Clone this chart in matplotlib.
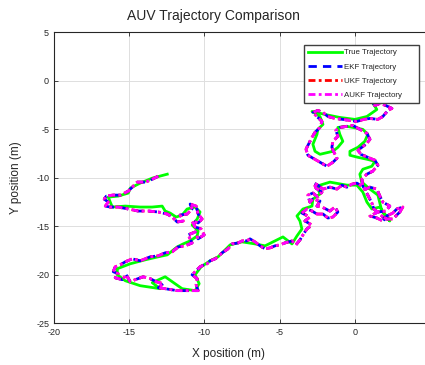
import matplotlib
matplotlib.use("Agg")
import matplotlib.pyplot as plt

# True trajectory (m)
true_x = [-12.47, -13.47, -14.27, -14.93, -15.06, -15.73, -16.39, -16.26, -16.12, -15.26,
          -14.27, -13.47, -12.81, -12.61, -12.28, -11.88, -11.48, -11.15, -10.62, -10.29,
          -10.48, -10.82, -10.42, -10.48, -10.95, -11.41, -11.81, -12.14, -12.47, -13.07,
          -13.93, -14.93, -15.79, -15.79, -15.26, -14.27, -12.94, -13.47, -12.61, -12.14,
          -11.48, -10.62, -10.35, -10.62, -10.22, -9.62, -9.09, -8.69, -8.29, -7.5,
          -6.64, -5.97, -5.31, -4.78, -4.18, -3.85, -3.52, -3.65, -3.85, -3.45,
          -2.85, -2.79, -2.32, -2.52, -1.66, -0.53, 0.13, 0.53, 0.8, 1.13,
          1.66, 1.99, 2.32, 1.79, 1.53, 1.0, 0.46, 0.33, 0.53, 1.13,
          1.33, 0.8, 0.2, -0.33, -0.33, 0.2, 0.66, 0.86, 0.53, -0.13,
          -0.53, -1.13, -1.0, -0.8, -1.13, -1.46, -2.32, -2.65, -2.79, -2.52,
          -2.46, -2.12, -2.32, -2.85, -1.99, -1.0, 0.0, 0.8, 1.46, 1.13]
true_y = [-9.65, -10.06, -10.57, -11.09, -11.6, -11.91, -12.01, -12.53, -13.04, -12.94,
          -13.04, -13.04, -12.94, -13.45, -13.66, -14.07, -13.86, -13.24, -13.04, -13.55,
          -14.27, -14.89, -15.5, -16.02, -16.53, -16.84, -17.15, -17.56, -17.97, -18.17,
          -18.48, -18.89, -19.4, -20.02, -20.64, -21.15, -21.46, -20.84, -20.23, -20.74,
          -21.46, -21.66, -20.94, -20.02, -19.2, -18.58, -18.17, -17.56, -16.94, -16.63,
          -16.84, -17.04, -16.53, -16.12, -16.84, -16.02, -15.3, -14.48, -13.96, -13.24,
          -12.94, -12.22, -11.7, -10.88, -10.47, -10.78, -10.78, -11.5, -12.53, -13.24,
          -13.04, -13.76, -14.48, -13.45, -11.81, -11.19, -10.47, -9.65, -9.14, -8.83,
          -8.32, -8.11, -7.91, -7.7, -7.29, -6.88, -6.26, -5.54, -5.03, -4.83,
          -4.72, -4.83, -5.54, -6.26, -6.88, -7.29, -7.6, -7.29, -6.57, -5.54,
          -5.03, -4.52, -3.7, -3.18, -3.49, -3.8, -4.0, -3.7, -2.98, -2.16]

# Filter estimates (EKF, UKF and AUKF overlap almost exactly)
est_x = [-13.07, -13.6, -13.93, -14.47, -14.8, -15.06, -15.59, -16.12, -16.52, -16.66,
         -16.39, -16.59, -16.26, -15.73, -15.06, -14.4, -13.74, -13.07, -12.47, -12.14,
         -11.81, -11.41, -11.61, -11.15, -10.82, -10.95, -10.55, -10.42, -10.15, -10.42,
         -10.82, -10.62, -10.22, -10.02, -10.42, -10.62, -11.08, -10.82, -11.28, -11.75,
         -12.14, -12.61, -13.07, -13.6, -14.27, -14.8, -15.26, -15.59, -15.93, -16.06,
         -15.73, -15.93, -15.46, -15.2, -14.93, -14.6, -14.07, -13.6, -13.2, -12.74,
         -13.07, -12.61, -11.81, -11.08, -10.42, -10.55, -10.48, -10.82, -10.55, -10.29,
         -10.02, -9.82, -9.62, -9.29, -9.09, -8.83, -8.43, -8.16, -7.76, -7.5,
         -7.17, -6.97, -6.64, -6.3, -5.97, -5.64, -5.31, -4.98, -4.65, -4.18,
         -3.92, -3.65, -3.45, -3.19, -2.85, -3.32, -2.99, -3.52, -3.19, -2.85,
         -2.52, -2.12, -1.79, -1.46, -1.13, -1.33, -1.66, -2.19, -2.52, -2.32,
         -2.79, -2.99, -3.12, -2.79, -2.46, -2.19, -2.59, -2.72, -2.46, -2.12,
         -1.66, -1.19, -0.86, -0.53, -0.2, 0.13, 0.46, 0.73, 1.0, 1.46,
         1.66, 1.86, 2.32, 2.06, 1.53, 1.0, 1.46, 1.86, 2.12, 2.52,
         2.79, 3.19, 2.99, 2.52, 1.99, 1.66, 1.26, 1.13, 0.86, 0.53,
         0.46, 0.8, 1.19, 1.53, 1.33, 0.86, 0.4, 0.2, 0.46, 0.8,
         1.0, 0.8, 0.33, -0.13, -0.53, -1.0, -1.26, -1.13, -1.46, -1.53,
         -1.39, -1.19, -1.46, -1.86, -2.32, -2.79, -3.12, -3.25, -3.05, -2.85,
         -2.65, -2.32, -2.19, -2.46, -2.79, -2.46, -2.12, -1.79, -1.33, -0.8,
         -0.33, 0.13, 0.6, 1.0, 1.53, 1.86, 2.19, 2.46, 2.06, 1.66,
         1.33, 1.13]
est_y = [-9.86, -10.27, -10.47, -10.47, -10.99, -11.4, -11.81, -11.81, -11.91, -12.22,
         -12.53, -12.94, -13.04, -13.04, -13.24, -13.45, -13.45, -13.55, -13.76, -14.07,
         -14.58, -14.48, -13.86, -13.76, -13.24, -12.73, -12.94, -13.76, -14.27, -14.68,
         -14.48, -15.09, -15.3, -15.91, -16.32, -15.61, -15.91, -16.74, -17.04, -17.15,
         -17.66, -17.76, -18.07, -18.17, -18.58, -18.38, -18.69, -18.99, -19.2, -19.71,
         -19.92, -20.33, -20.53, -20.02, -20.74, -20.53, -20.23, -20.43, -20.74, -20.94,
         -21.36, -21.46, -21.66, -21.66, -21.66, -21.05, -20.43, -20.02, -19.61, -19.2,
         -18.99, -18.89, -18.58, -18.38, -18.17, -17.76, -17.35, -16.84, -16.74, -16.53,
         -16.53, -16.32, -16.63, -17.04, -17.35, -17.25, -17.04, -16.94, -16.74, -16.53,
         -16.94, -16.43, -15.91, -15.3, -14.89, -14.48, -14.07, -13.66, -13.24, -13.45,
         -13.76, -13.76, -14.17, -14.07, -13.55, -13.04, -13.45, -13.04, -12.94, -12.42,
         -12.22, -12.53, -11.81, -11.6, -12.01, -11.5, -11.09, -10.57, -10.78, -11.19,
         -10.99, -11.19, -10.78, -10.99, -10.68, -10.57, -10.88, -11.19, -10.99, -11.19,
         -11.91, -12.53, -12.94, -13.45, -13.55, -13.96, -14.17, -14.48, -13.96, -13.66,
         -13.24, -13.04, -13.55, -14.27, -14.27, -13.76, -13.24, -12.63, -11.81, -10.88,
         -10.16, -9.65, -9.34, -8.73, -8.21, -7.91, -7.6, -7.19, -6.88, -6.47,
         -6.06, -5.44, -5.03, -4.62, -4.72, -4.83, -5.13, -5.75, -6.26, -6.88,
         -7.39, -8.01, -8.42, -8.83, -8.42, -8.01, -7.7, -7.08, -6.47, -5.85,
         -5.34, -4.83, -4.21, -3.8, -3.29, -3.08, -3.29, -3.7, -3.9, -4.0,
         -4.11, -4.21, -4.0, -3.9, -4.0, -3.7, -3.08, -2.87, -2.57, -2.36,
         -2.57, -2.16]

labels = ["True Trajectory", "EKF Trajectory", "UKF Trajectory", "AUKF Trajectory"]
x_ticks = [-20, -15, -10, -5, 0]
y_ticks = [-25, -20, -15, -10, -5, 0, 5]

plt.rcParams['font.family'] = ['Liberation Sans', 'DejaVu Sans']
plt.rcParams['axes.unicode_minus'] = False
txt = (0.15, 0.15, 0.15)

fig = plt.figure(figsize=(4.25, 3.65), dpi=100)
ax = fig.add_axes([0.127, 0.115, 0.885, 0.797])

ax.plot(true_x, true_y, color=(0, 1, 0), lw=2.0, label=labels[0])
ax.plot(est_x, est_y, color=(0, 0, 1), lw=2.0, ls=(0, (3, 2.2)), label=labels[1])
ax.plot(est_x, est_y, color=(1, 0, 0), lw=2.0, ls=(0, (2.5, 1.2, 1, 1.2)), label=labels[2])
ax.plot(est_x, est_y, color=(1, 0, 1), lw=2.0, ls=(0, (2.5, 1.2, 1, 1.2)), label=labels[3])

ax.set_xlim(-20, 5)
ax.set_ylim(-25, 5)
ax.set_xticks(x_ticks)
ax.set_yticks(y_ticks)
ax.tick_params(direction='in', labelsize=6.5, colors=txt, length=3, width=0.6,
               top=True, right=True)
ax.grid(True, color=(0.87, 0.87, 0.87), lw=0.7)
ax.set_axisbelow(True)
for s in ax.spines.values():
    s.set_color(txt)
    s.set_linewidth(0.8)

ax.set_title("AUV Trajectory Comparison", fontsize=10, color=txt, pad=9, x=0.423)
ax.set_xlabel("X position (m)", fontsize=8.5, color=txt, labelpad=8, x=0.465)
ax.set_ylabel("Y position (m)", fontsize=8.5, color=txt, labelpad=10)

leg = ax.legend(loc='upper left', bbox_to_anchor=(300 / 425, 0.726, 123 / 425, 0.162),
                bbox_transform=fig.transFigure, mode='expand', fontsize=5.7,
                handlelength=4.3, labelspacing=0.85, borderpad=0.5,
                handletextpad=0.2, fancybox=False, framealpha=1,
                edgecolor=(0.25, 0.25, 0.25))
leg.get_frame().set_linewidth(1.0)
for t in leg.get_texts():
    t.set_color(txt)

fig.savefig("out.png", dpi=100)
